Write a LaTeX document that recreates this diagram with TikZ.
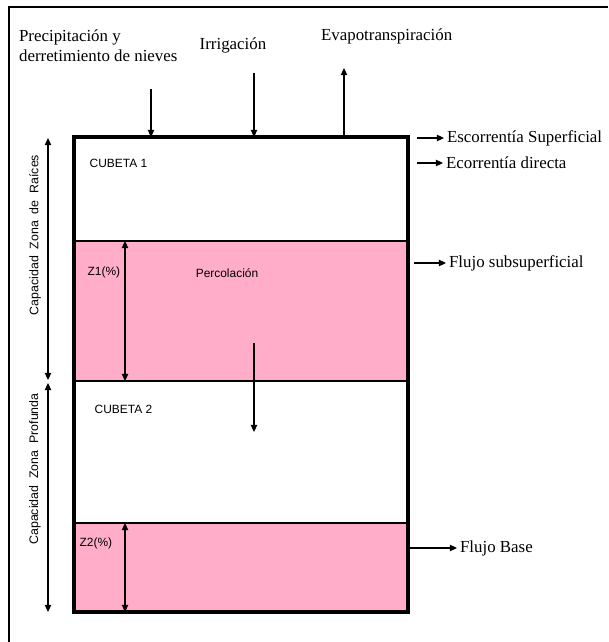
\documentclass[tikz,border=0pt]{standalone}
\usepackage{fontspec}
\setmainfont{Liberation Serif}
\setsansfont{Liberation Sans}
\usepackage{tikz}
\usetikzlibrary{arrows.meta, positioning}

\definecolor{soilpink}{RGB}{255,173,201}

\begin{document}
\begin{tikzpicture}[
  x=0.25mm, y=-0.25mm,
  lbl/.style={font=\fontsize{12}{14}\selectfont, inner sep=2pt},
  inlbl/.style={font=\sffamily\fontsize{8.5}{10}\selectfont, inner sep=1pt},
  caplbl/.style={font=\sffamily\fontsize{8.8}{10}\selectfont, rotate=90},
  arrow/.style={-{Triangle[length=5pt, width=4.5pt]}, line width=0.8pt},
  dblarrow/.style={{Triangle[length=5pt, width=4.5pt]}-{Triangle[length=5pt, width=4.5pt]}, line width=0.8pt},
  soil/.style={fill=soilpink}
]
  \useasboundingbox (0,0) rectangle (608,642);

  % frame
  \draw[line width=1.3pt] (9,642) -- (9,7) -- (608,7);

  % buckets
  \fill[soil] (74,241) rectangle (408,381);
  \fill[soil] (74,523) rectangle (408,612);
  \draw[line width=1pt] (74,241) -- (408,241);
  \draw[line width=1pt] (74,523) -- (408,523);

  % percolation
  \coordinate (perc-s) at (254,343);
  \coordinate (perc-e) at (254,432);
  \draw[arrow] (perc-s) -- (perc-e);

  \draw[line width=2pt] (74,381) -- (408,381);
  \draw[line width=2.2pt] (74,137) rectangle (408,612);

  \node[inlbl, anchor=west] (cub1) at (88,163) {CUBETA 1};
  \node[inlbl, anchor=west] (cub2) at (93,409) {CUBETA 2};
  \node[inlbl, anchor=west] (z1) at (86,272) {Z1(\%)};
  \node[inlbl, anchor=west] (z2) at (78,543) {Z2(\%)};
  \node[inlbl] (perc) at (227,273) {Percolación};

  % depths
  \coordinate (z1-t) at (125,241);
  \coordinate (z1-b) at (125,381);
  \coordinate (z2-t) at (125,523);
  \coordinate (z2-b) at (125,612);
  \draw[dblarrow] (z1-t) -- (z1-b);
  \draw[dblarrow] (z2-t) -- (z2-b);

  % capacities
  \coordinate (rai-t) at (48,138);
  \coordinate (rai-b) at (48,380);
  \coordinate (pro-t) at (48,383);
  \coordinate (pro-b) at (48,612);
  \draw[dblarrow] (rai-t) -- (rai-b);
  \draw[dblarrow] (pro-t) -- (pro-b);
  \node[caplbl] (rai) at (35,235) {Capacidad\ \ Zona\ \ de\ \ Raíces};
  \node[caplbl] (pro) at (35,469) {Capacidad\ \ Zona\ \ Profunda};

  % inputs
  \node[lbl, anchor=west, align=left] (prec) at (16,46) {Precipitación y\\derretimiento de nieves};
  \node[lbl] (irr) at (233,45) {Irrigación};
  \node[lbl, anchor=west] (evap) at (318,36) {Evapotranspiración};
  \coordinate (prec-s) at (151,89);
  \coordinate (prec-e) at (151,137);
  \coordinate (irr-s) at (254,73);
  \coordinate (irr-e) at (254,137);
  \coordinate (evap-s) at (344,137);
  \coordinate (evap-e) at (344,68);
  \draw[arrow] (prec-s) -- (prec-e);
  \draw[arrow] (irr-s) -- (irr-e);
  \draw[arrow] (evap-s) -- (evap-e);

  % outputs
  \node[lbl, anchor=west] (esc) at (444,138) {Escorrentía Superficial};
  \node[lbl, anchor=west] (dir) at (443,163) {Ecorrentía directa};
  \node[lbl, anchor=west] (sub) at (446,263) {Flujo subsuperficial};
  \node[lbl, anchor=west] (base) at (457,548) {Flujo Base};
  \coordinate (esc-s) at (417,138);
  \coordinate (dir-s) at (417,163);
  \coordinate (sub-s) at (414,263);
  \coordinate (base-s) at (408,548);
  \draw[arrow] (esc-s) -- (esc.west);
  \draw[arrow] (dir-s) -- (dir.west);
  \draw[arrow] (sub-s) -- (sub.west);
  \draw[arrow] (base-s) -- (base.west);
\end{tikzpicture}
\end{document}
